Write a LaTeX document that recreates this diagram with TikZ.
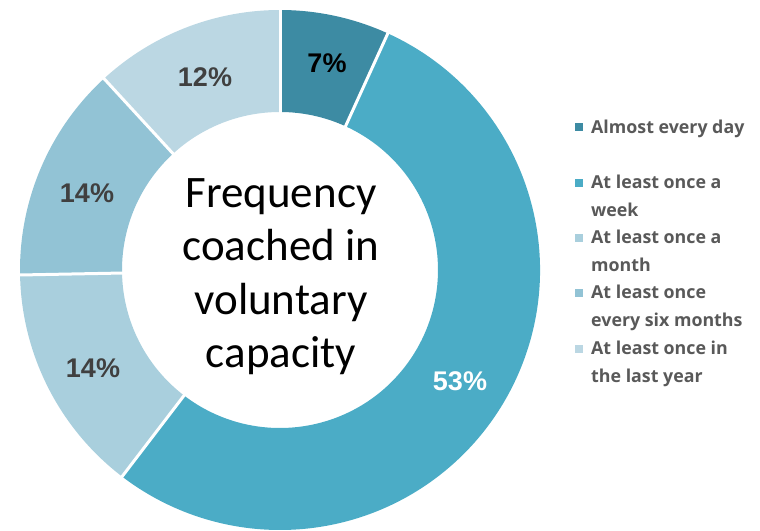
\documentclass[tikz,border=0pt]{standalone}
\usepackage{fontspec}
\setmainfont{Liberation Sans}
\newfontfamily\calib{Carlito}
\newfontfamily\legfont{Open Sans}
\usetikzlibrary{calc}
\definecolor{cDay}{HTML}{3D8BA3}
\definecolor{cWeek}{HTML}{4BACC6}
\definecolor{cMonth}{HTML}{A9CFDD}
\definecolor{cSix}{HTML}{92C3D5}
\definecolor{cYear}{HTML}{BBD7E3}
\definecolor{labgray}{HTML}{404040}
\definecolor{leggray}{HTML}{595959}
\tikzset{
  pct/.style={font=\bfseries\fontsize{27}{27}\selectfont, text=labgray, inner sep=0pt},
  legtxt/.style={font=\legfont\bfseries\fontsize{17.8}{27.5}\selectfont, text=leggray, anchor=base west, align=left, inner sep=0pt},
  legkey/.style={fill=#1, minimum size=8pt, inner sep=0pt},
  divider/.style={draw=white, line width=3pt},
}
\newcommand{\ringseg}[3]{%
  \fill[#3] ($(C)+(#1:260)$) arc[start angle=#1, end angle=#2, radius=260]
    -- ($(C)+(#2:158)$) arc[start angle=#2, end angle=#1, radius=158] -- cycle;}
\begin{document}
\begin{tikzpicture}[x=1pt,y=1pt]
\useasboundingbox (0,0) rectangle (760,-530);
\coordinate (C) at (280,-270);
\ringseg{90}{65.5}{cDay}
\ringseg{65.5}{-127.4}{cWeek}
\ringseg{-127.4}{-178.9}{cMonth}
\ringseg{181.1}{132.6}{cSix}
\ringseg{132.6}{90}{cYear}
\foreach \a in {90,65.5,-127.4,-178.9,132.6}
  \draw[divider] ($(C)+(\a:156)$) -- ($(C)+(\a:262)$);
% percentage labels
\node[pct, text=black] (pday) at (327,-63) {7\%};
\node[pct, text=white] (pweek) at (460,-381) {53\%};
\node[pct] (pmonth) at (93,-368) {14\%};
\node[pct] (psix) at (87,-193) {14\%};
\node[pct] (pyear) at (205,-77) {12\%};
% centre title
\node[font=\calib\fontsize{45}{53.5}\selectfont, align=center, anchor=base, inner sep=0pt] (title) at (281,-367.5)
  {Frequency\\coached in\\voluntary\\capacity};
% legend
\node[legkey=cDay] (k1) at (579,-127) {};
\node[legkey=cWeek] (k2) at (579,-183) {};
\node[legkey=cMonth] (k3) at (579,-238) {};
\node[legkey=cSix] (k4) at (579,-293) {};
\node[legkey=cYear] (k5) at (579,-349) {};
\node[legtxt] (l1) at (591,-133) {Almost every day};
\node[legtxt] (l2) at (591,-216) {At least once a\\week};
\node[legtxt] (l3) at (591,-271) {At least once a\\month};
\node[legtxt] (l4) at (591,-326) {At least once\\every six months};
\node[legtxt] (l5) at (591,-382) {At least once in\\the last year};
\end{tikzpicture}
\end{document}
